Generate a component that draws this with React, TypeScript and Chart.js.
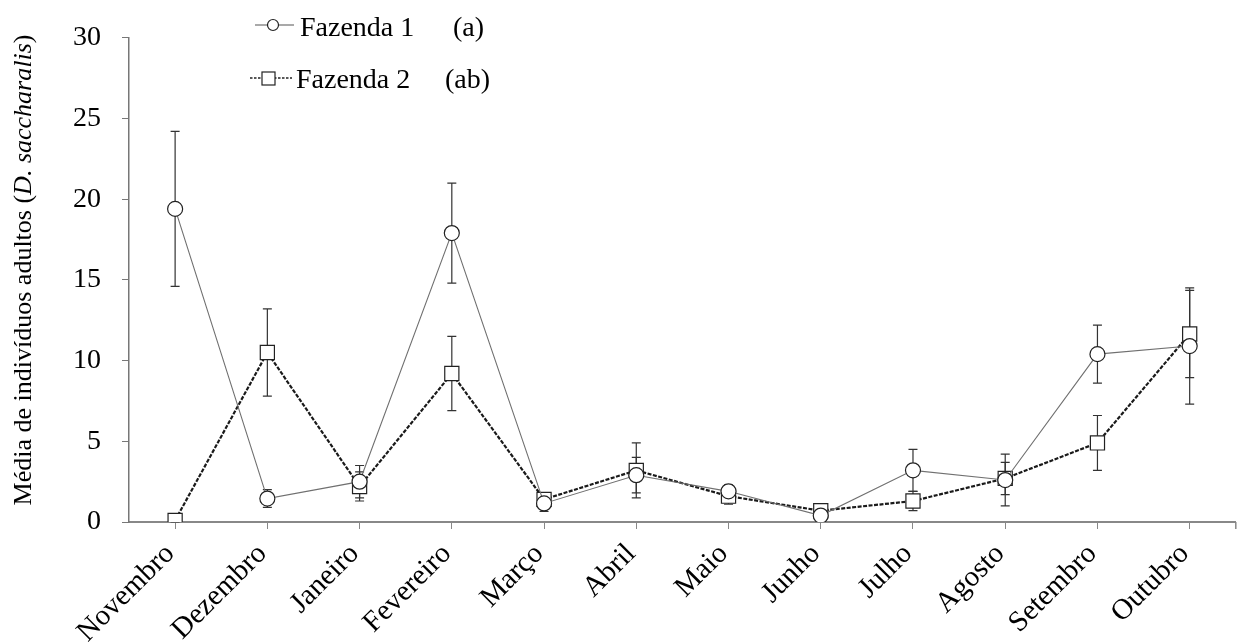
import React, { useEffect, useRef } from "react";
import { Chart, registerables } from "chart.js";

Chart.register(...registerables);

const months = ["Novembro", "Dezembro", "Janeiro", "Fevereiro", "Março", "Abril", "Maio", "Junho", "Julho", "Agosto", "Setembro", "Outubro"];
const fazenda1 = [19.4, 1.45, 2.5, 17.9, 1.15, 2.9, 1.9, 0.4, 3.2, 2.6, 10.4, 10.9];
const fazenda1Err = [4.8, 0.55, 1.0, 3.1, 0.5, 1.1, 0.4, 0.2, 1.3, 1.6, 1.8, 3.6];
const fazenda2 = [0.1, 10.5, 2.2, 9.2, 1.4, 3.2, 1.6, 0.7, 1.3, 2.7, 4.9, 11.65];
const fazenda2Err = [0.1, 2.7, 0.9, 2.3, 0.3, 1.7, 0.5, 0.2, 0.6, 1.0, 1.7, 2.7];
const yTicks = [0, 5, 10, 15, 20, 25, 30];
const legendNames = ["Fazenda 1", "Fazenda 2"];
const legendLetters = ["(a)", "(ab)"];

const FONT = "'Liberation Serif', 'Times New Roman', serif";

const errorBars = {
  id: "errorBars",
  beforeDatasetsDraw(chart: any) {
    const ctx = chart.ctx;
    const y = chart.scales.y;
    const errs = [fazenda1Err, fazenda2Err];
    const vals = [fazenda1, fazenda2];
    ctx.save();
    ctx.strokeStyle = "#333";
    ctx.lineWidth = 1.2;
    for (let d = 1; d >= 0; d--) {
      const meta = chart.getDatasetMeta(d);
      meta.data.forEach((pt: any, i: number) => {
        const x = pt.x;
        const top = y.getPixelForValue(vals[d][i] + errs[d][i]);
        const bot = y.getPixelForValue(Math.max(0, vals[d][i] - errs[d][i]));
        ctx.beginPath();
        ctx.moveTo(x, top);
        ctx.lineTo(x, bot);
        ctx.moveTo(x - 4.5, top);
        ctx.lineTo(x + 4.5, top);
        ctx.moveTo(x - 4.5, bot);
        ctx.lineTo(x + 4.5, bot);
        ctx.stroke();
      });
    }
    ctx.restore();
  },
};

const decorations = {
  id: "decorations",
  afterDraw(chart: any) {
    const ctx = chart.ctx;
    const area = chart.chartArea;
    ctx.save();
    // right end tick of x axis
    ctx.strokeStyle = "#888";
    ctx.lineWidth = 1.5;
    ctx.beginPath();
    ctx.moveTo(area.right, area.bottom);
    ctx.lineTo(area.right, area.bottom + 7);
    ctx.stroke();

    // y axis title with italic part
    ctx.fillStyle = "#000";
    ctx.textBaseline = "alphabetic";
    const parts = [
      { t: "Média de indivíduos adultos (", f: `26px ${FONT}` },
      { t: "D. saccharalis", f: `italic 26px ${FONT}` },
      { t: ")", f: `26px ${FONT}` },
    ];
    let total = 0;
    parts.forEach((p) => {
      ctx.font = p.f;
      total += ctx.measureText(p.t).width;
    });
    ctx.translate(31, 270);
    ctx.rotate(-Math.PI / 2);
    let px = -total / 2;
    parts.forEach((p) => {
      ctx.font = p.f;
      ctx.textAlign = "left";
      ctx.fillText(p.t, px, 0);
      px += ctx.measureText(p.t).width;
    });
    ctx.setTransform(1, 0, 0, 1, 0, 0);

    // legend
    ctx.font = `28px ${FONT}`;
    ctx.textAlign = "left";
    ctx.fillStyle = "#000";
    // row 1
    ctx.strokeStyle = "#555";
    ctx.lineWidth = 1.2;
    ctx.setLineDash([]);
    ctx.beginPath();
    ctx.moveTo(255, 25);
    ctx.lineTo(294, 25);
    ctx.stroke();
    ctx.beginPath();
    ctx.arc(273, 25, 5.5, 0, Math.PI * 2);
    ctx.fillStyle = "#fff";
    ctx.fill();
    ctx.strokeStyle = "#222";
    ctx.stroke();
    ctx.fillStyle = "#000";
    ctx.fillText(legendNames[0], 300, 36);
    ctx.fillText(legendLetters[0], 453, 36);
    // row 2
    ctx.strokeStyle = "#222";
    ctx.lineWidth = 1.4;
    ctx.setLineDash([2.5, 1.5]);
    ctx.beginPath();
    ctx.moveTo(250, 78);
    ctx.lineTo(292, 78);
    ctx.stroke();
    ctx.setLineDash([]);
    ctx.fillStyle = "#fff";
    ctx.fillRect(262, 72, 13, 13);
    ctx.lineWidth = 1.2;
    ctx.strokeRect(262, 72, 13, 13);
    ctx.fillStyle = "#000";
    ctx.fillText(legendNames[1], 296, 88);
    ctx.fillText(legendLetters[1], 445, 88);
    ctx.restore();
  },
};

export default function App() {
  const ref = useRef<HTMLCanvasElement>(null);
  useEffect(() => {
    document.body.style.margin = "0";
    const chart = new Chart(ref.current as HTMLCanvasElement, {
      type: "line",
      data: {
        labels: months,
        datasets: [
          {
            label: legendNames[0],
            data: fazenda1,
            borderColor: "#707070",
            borderWidth: 1.1,
            pointStyle: "circle",
            pointRadius: 7.5,
            pointBackgroundColor: "#fff",
            pointBorderColor: "#222",
            pointBorderWidth: 1.2,
            tension: 0,
          },
          {
            label: legendNames[1],
            data: fazenda2,
            borderColor: "#1a1a1a",
            borderWidth: 2.2,
            borderDash: [4, 1.5],
            pointStyle: "rect",
            pointRadius: 10,
            pointBackgroundColor: "#fff",
            pointBorderColor: "#222",
            pointBorderWidth: 1.2,
            tension: 0,
          },
        ],
      },
      options: {
        responsive: false,
        animation: false,
        layout: { padding: { top: 24, right: 3, left: 0, bottom: 0 } },
        plugins: { legend: { display: false }, tooltip: { enabled: false } },
        scales: {
          x: {
            type: "category",
            offset: true,
            grid: { display: true, drawOnChartArea: false, drawTicks: true, tickLength: 7, color: "#888", offset: false },
            border: { display: true, color: "#888", width: 2 },
            ticks: {
              font: { family: FONT, size: 29 },
              color: "#000",
              minRotation: 45,
              maxRotation: 45,
              autoSkip: false,
              padding: 8,
              labelOffset: -5,
            },
            afterFit: (s: any) => {
              s.height = 120;
            },
          },
          y: {
            min: 0,
            max: 30,
            afterBuildTicks: (s: any) => {
              s.ticks = yTicks.map((v) => ({ value: v }));
            },
            grid: { display: true, drawOnChartArea: false, drawTicks: true, tickLength: 7, color: "#777" },
            border: { display: true, color: "#777", width: 1.5 },
            ticks: {
              font: { family: FONT, size: 28 },
              color: "#000",
              padding: 21,
            },
            afterFit: (s: any) => {
              s.width = 129;
            },
          },
        },
      },
      plugins: [errorBars, decorations],
    });
    return () => chart.destroy();
  }, []);
  return <canvas ref={ref} width={1247} height={642} style={{ display: "block" }} />;
}
